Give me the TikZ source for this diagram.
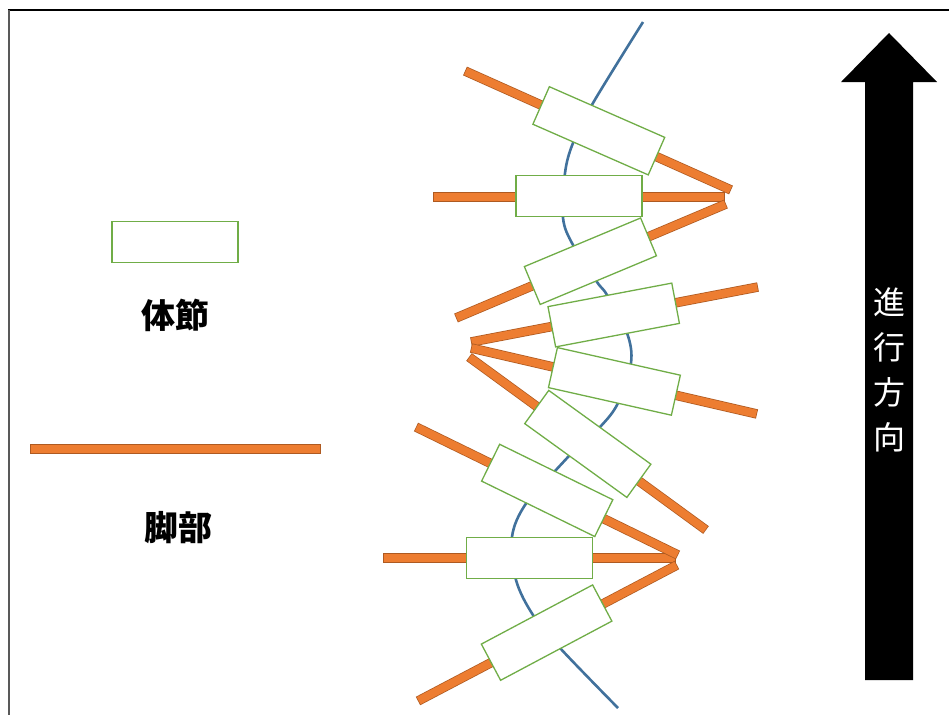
\documentclass[tikz,border=0pt]{standalone}
\usepackage{fontspec}
\newfontfamily\cjk{Noto Sans CJK JP}
\definecolor{segGreen}{HTML}{70AD47}
\definecolor{legOrange}{HTML}{ED7D31}
\definecolor{legEdge}{HTML}{AE5A21}
\definecolor{spineBlue}{HTML}{41719C}
\tikzset{
  seg/.style={draw=segGreen, fill=white, line width=1.3pt, minimum width=126pt, minimum height=41pt, inner sep=0pt},
  legouter/.style={draw=legEdge, line width=9.5pt},
  leginner/.style={draw=legOrange, line width=8pt, shorten <=0.75pt, shorten >=0.75pt},
  spine/.style={draw=spineBlue, line width=2.6pt},
  lbl/.style={font=\cjk\bfseries\fontsize{34}{40}\selectfont, inner sep=0pt}
}
\newcommand{\leg}[2]{\draw[legouter] (#1) -- (#2); \draw[leginner] (#1) -- (#2);}
\begin{document}
\begin{tikzpicture}[x=1pt,y=-1pt]
\useasboundingbox (0,0) rectangle (949,715);
% frame
\draw[black, line width=1.5pt] (8,10) -- (949,10);
\draw[black!65, line width=2pt] (9,10) -- (9,715);
% spine
\draw[spine] plot[smooth, tension=0.55] coordinates {(643,22) (593,103) (573,143) (565,173) (563,218) (573,245) (597,282) (607,295) (627,333) (631,363) (618,403) (600,427) (568,457) (555,471) (525,505) (512,537) (516,580) (533,615) (560,648) (618,708)};
% leg end points
\coordinate (l1a) at (465,71);  \coordinate (l1b) at (731,190);
\coordinate (l2a) at (433,197); \coordinate (l2b) at (725,197);
\coordinate (l3a) at (726,204); \coordinate (l3b) at (456,318);
\coordinate (l4a) at (471,342); \coordinate (l4b) at (758,287);
\coordinate (l5a) at (471,348); \coordinate (l5b) at (757,414);
\coordinate (l6a) at (469,357); \coordinate (l6b) at (706,530);
\coordinate (l7a) at (416,427); \coordinate (l7b) at (678,555);
\coordinate (l8a) at (383,558); \coordinate (l8b) at (676,558);
\coordinate (l9a) at (677,565); \coordinate (l9b) at (418,701);
\leg{l2a}{l2b}
\leg{l3a}{l3b}
\leg{l1a}{l1b}
\leg{l4a}{l4b}
\leg{l5a}{l5b}
\leg{l6a}{l6b}
\leg{l8a}{l8b}
\leg{l9a}{l9b}
\leg{l7a}{l7b}
% body segments
\node[seg, rotate=-23.7] (s1) at (598.8,130.8) {};
\node[seg] (s2) at (579,196) {};
\node[seg, rotate=22.7] (s3) at (590.4,261.2) {};
\node[seg, rotate=10.75] (s4) at (613.7,315) {};
\node[seg, rotate=-12.65] (s5) at (614.4,381.4) {};
\node[seg, rotate=-35.85] (s6) at (587.8,443.9) {};
\node[seg, rotate=-26.1] (s7) at (547.2,490.4) {};
\node[seg] (s8) at (529.3,557.8) {};
\node[seg, rotate=28] (s9) at (546.6,632.6) {};
% legend
\node[seg] (legseg) at (175,242) {};
\node[lbl] (txtseg) at (175.5,315) {体節};
\coordinate (lbara) at (30,449); \coordinate (lbarb) at (321,449);
\leg{lbara}{lbarb}
\node[lbl] (txtleg) at (178.5,527.5) {脚部};
% direction arrow
\fill[black] (865,680) -- (865,82) -- (841,82) -- (889,33) -- (937,82) -- (913,82) -- (913,680) -- cycle;
\node[text=white, align=center, inner sep=0pt, font=\cjk\fontsize{32}{45}\selectfont] (dir) at (889,370) {進\\行\\方\\向};
\end{tikzpicture}
\end{document}
